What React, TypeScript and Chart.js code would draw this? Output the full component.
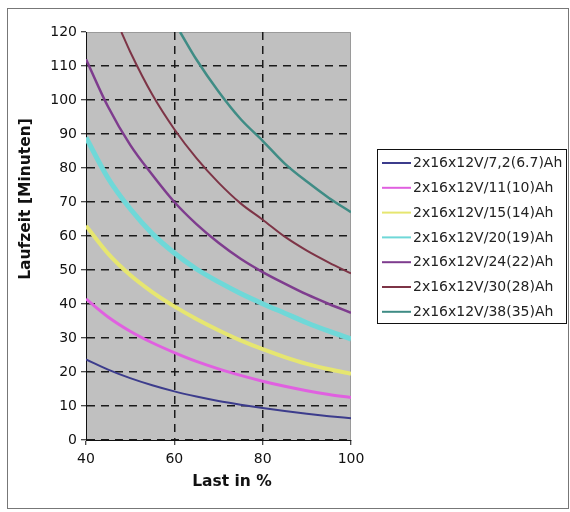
import React, { useEffect, useRef } from "react";
import { Chart, registerables } from "chart.js";

Chart.register(...registerables);

const loadPct = [40, 45, 50, 55, 60, 65, 70, 75, 80, 85, 90, 95, 100];
const loadPct30 = [48, 50, 55, 60, 65, 70, 75, 80, 85, 90, 95, 100];
const loadPct38 = [61.3, 65, 70, 75, 80, 85, 90, 95, 100];

const run7_2 = [23.7, 20.7, 18.2, 16.1, 14.3, 12.8, 11.5, 10.4, 9.4, 8.5, 7.7, 7.0, 6.4];
const run11 = [41.5, 36.2, 32, 28.6, 25.7, 23.1, 20.9, 19, 17.3, 15.8, 14.5, 13.4, 12.5];
const run15 = [63, 54.8, 48.5, 43.5, 39.3, 35.6, 32.3, 29.3, 26.7, 24.4, 22.4, 20.8, 19.5];
const run20 = [89, 77, 68, 60.7, 55, 50.3, 46.5, 43.1, 40.1, 37.3, 34.5, 32, 29.7];
const run24 = [112, 98, 86.8, 78, 70, 63.5, 58, 53.3, 49.4, 46, 42.8, 40, 37.4];
const run30 = [120, 114.2, 101.6, 91.4, 82.9, 75.7, 69.6, 64.8, 59.8, 55.7, 52.2, 49];
const run38 = [120, 111.9, 102.5, 94.4, 88, 81.3, 76, 71.2, 67];

const seriesLabels = [
  "2x16x12V/7,2(6.7)Ah",
  "2x16x12V/11(10)Ah",
  "2x16x12V/15(14)Ah",
  "2x16x12V/20(19)Ah",
  "2x16x12V/24(22)Ah",
  "2x16x12V/30(28)Ah",
  "2x16x12V/38(35)Ah",
];
const seriesColors = ["#3c3c8c", "#e060e0", "#e6e670", "#6fd8d8", "#7e3c8e", "#7d3446", "#3f8c85"];
const seriesWidths = [2, 3, 4, 5, 2.5, 2, 2.5];

const yTicks = { min: 0, max: 120, step: 10 };
const xTicks = { min: 40, max: 100, step: 20 };
const xTitle = "Last in %";
const yTitle = "Laufzeit [Minuten]";

const FONT = "DejaVu Sans";

function pts(xs: number[], ys: number[]) {
  return xs.map((x, i) => ({ x, y: ys[i] }));
}

const decorPlugin = {
  id: "decor",
  beforeDraw(chart: any) {
    const { ctx, chartArea: a } = chart;
    ctx.save();
    ctx.fillStyle = "#ffffff";
    ctx.fillRect(0, 0, chart.width, chart.height);
    ctx.strokeStyle = "#777";
    ctx.lineWidth = 1;
    ctx.strokeRect(7.5, 8.5, 561, 500);
    ctx.fillStyle = "#c0c0c0";
    ctx.fillRect(a.left, a.top, a.right - a.left, a.bottom - a.top);
    ctx.strokeStyle = "#9a9a9a";
    ctx.beginPath();
    ctx.moveTo(a.left, a.top + 0.5);
    ctx.lineTo(a.right - 0.5, a.top + 0.5);
    ctx.lineTo(a.right - 0.5, a.bottom);
    ctx.stroke();
    ctx.restore();
  },
  afterDraw(chart: any) {
    const { ctx } = chart;
    ctx.save();
    ctx.fillStyle = "#111";
    ctx.font = `bold 15.5px "${FONT}"`;
    ctx.textAlign = "center";
    ctx.textBaseline = "middle";
    ctx.fillText(xTitle, 232, 482);
    ctx.translate(26, 199);
    ctx.rotate(-Math.PI / 2);
    ctx.fillText(yTitle, 0, 0);
    ctx.restore();

    // legend
    ctx.save();
    ctx.fillStyle = "#fff";
    ctx.fillRect(377, 149, 190, 175);
    ctx.strokeStyle = "#111";
    ctx.lineWidth = 1;
    ctx.strokeRect(377.5, 149.5, 189, 174);
    ctx.font = `14px "${FONT}"`;
    ctx.textAlign = "left";
    ctx.textBaseline = "middle";
    seriesLabels.forEach((lab, i) => {
      const y = 163 + i * 24.8;
      ctx.strokeStyle = seriesColors[i];
      ctx.lineWidth = 2;
      ctx.beginPath();
      ctx.moveTo(382, y);
      ctx.lineTo(411, y);
      ctx.stroke();
      ctx.fillStyle = "#222";
      ctx.fillText(lab, 413, y + 0.5);
    });
    ctx.restore();
  },
};

export default function App() {
  const ref = useRef<HTMLCanvasElement | null>(null);
  useEffect(() => {
    if (!ref.current) return;
    const xsList = [loadPct, loadPct, loadPct, loadPct, loadPct, loadPct30, loadPct38];
    const ysList = [run7_2, run11, run15, run20, run24, run30, run38];
    const chart = new Chart(ref.current, {
      type: "line",
      data: {
        datasets: ysList.map((ys, i) => ({
          label: seriesLabels[i],
          data: pts(xsList[i], ys),
          borderColor: seriesColors[i],
          backgroundColor: seriesColors[i],
          borderWidth: seriesWidths[i],
          pointRadius: 0,
          cubicInterpolationMode: "monotone" as const,
          fill: false,
        })),
      },
      options: {
        responsive: false,
        animation: false,
        events: [],
        layout: { padding: { left: 0, top: 32, right: 219, bottom: 0 } },
        plugins: { legend: { display: false }, tooltip: { enabled: false }, title: { display: false } },
        scales: {
          x: {
            type: "linear",
            min: xTicks.min,
            max: xTicks.max,
            afterFit: (s: any) => {
              s.height = 72;
            },
            ticks: {
              stepSize: xTicks.step,
              color: "#111",
              font: { family: FONT, size: 14 },
              padding: 6,
              maxRotation: 0,
            },
            grid: {
              color: (c: any) =>
                c.tick && (c.tick.value === xTicks.min || c.tick.value === xTicks.max) ? "rgba(0,0,0,0)" : "#1a1a1a",
              lineWidth: 1.5,
              tickColor: "#111",
              tickLength: 5,
              tickWidth: 1,
            },
            border: { display: true, color: "#111", width: 1, dash: [8, 6] },
          },
          y: {
            type: "linear",
            min: yTicks.min,
            max: yTicks.max,
            afterFit: (s: any) => {
              s.width = 86;
            },
            ticks: {
              stepSize: yTicks.step,
              color: "#111",
              font: { family: FONT, size: 14 },
              padding: 4,
            },
            grid: {
              color: (c: any) => (c.tick && c.tick.value === yTicks.max ? "rgba(0,0,0,0)" : "#1a1a1a"),
              lineWidth: 1.5,
              tickColor: "#111",
              tickLength: 5,
              tickWidth: 1,
            },
            border: { display: true, color: "#111", width: 1, dash: [8, 6] },
          },
        },
      },
      plugins: [decorPlugin],
    });
    return () => chart.destroy();
  }, []);
  return (
    <div style={{ position: "fixed", left: 0, top: 0, width: 570, height: 512 }}>
      <canvas ref={ref} width={570} height={512} style={{ display: "block" }} />
    </div>
  );
}
